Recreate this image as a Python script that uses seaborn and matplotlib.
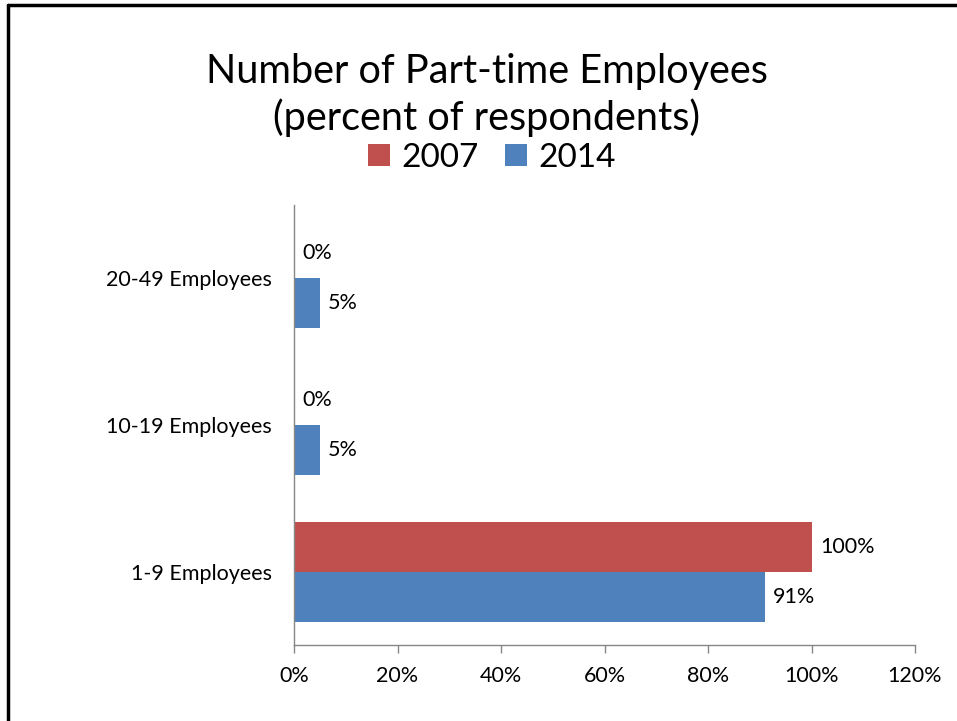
import matplotlib
matplotlib.use("Agg")
import matplotlib.pyplot as plt
from matplotlib.lines import Line2D
from matplotlib.patches import Patch
import seaborn as sns
import pandas as pd

# Survey results: share of respondents per part-time staff size
categories = ["20-49 Employees", "10-19 Employees", "1-9 Employees"]
years = ["2007", "2014"]
values_2007 = [0, 0, 100]
values_2014 = [5, 5, 91]
x_ticks = [0, 20, 40, 60, 80, 100, 120]

colors = {"2007": "#C0504D", "2014": "#4F81BD"}

df = pd.DataFrame({
    "category": categories * 2,
    "year": ["2007"] * len(categories) + ["2014"] * len(categories),
    "value": values_2007 + values_2014,
})

sns.set_theme(style="white")
plt.rcParams["font.family"] = ["Lato", "DejaVu Sans"]
plt.rcParams["text.color"] = "black"
plt.rcParams["xtick.color"] = "black"
plt.rcParams["ytick.color"] = "black"

fig = plt.figure(figsize=(9.57, 7.21), dpi=100)
ax = fig.add_axes([294 / 957, 1 - 645 / 721, (915 - 294) / 957, (645 - 205) / 721])

sns.barplot(data=df, x="value", y="category", hue="year", order=categories,
            hue_order=years, palette=colors, width=0.68, saturation=1,
            orient="h", ax=ax, legend=False, linewidth=0, edgecolor="none")

for container in ax.containers:
    ax.bar_label(container, labels=[f"{v:.0f}%" for v in container.datavalues],
                 padding=6, fontsize=15.5, color="black")

ax.set_xlim(0, 120)
ax.set_ylim(2.5, -0.5)
ax.set_xticks(x_ticks)
ax.set_xticklabels([f"{t}%" for t in x_ticks], fontsize=15.5)
ax.set_xlabel("")
ax.set_ylabel("")
ax.tick_params(axis="y", length=0, pad=16, labelsize=15.5, labelcolor="black")
ax.tick_params(axis="x", bottom=True, direction="out", length=6, width=1,
               color="#868686", pad=9, labelcolor="black")
for side in ("top", "right"):
    ax.spines[side].set_visible(False)
for side in ("left", "bottom"):
    ax.spines[side].set_color("#868686")
    ax.spines[side].set_linewidth(1)

fig.text(487 / 957, 1 - 72 / 721, "Number of Part-time Employees",
         ha="center", va="center", fontsize=28.5, color="black")
fig.text(487 / 957, 1 - 118 / 721, "(percent of respondents)",
         ha="center", va="center", fontsize=28.5, color="black")

handles = [Patch(facecolor=colors[y], edgecolor="none") for y in years]
fig.legend(handles, years, loc="center", bbox_to_anchor=(492 / 957, 1 - 158 / 721),
           ncol=2, frameon=False, fontsize=24, handlelength=0.65, handleheight=0.65,
           handletextpad=0.35, columnspacing=0.8, borderaxespad=0, labelcolor="black")

# Slide frame on the left and top edges
fig.add_artist(Line2D([8 / 957, 8 / 957], [0, 1 - 5 / 721], color="black", lw=2.5,
                      transform=fig.transFigure))
fig.add_artist(Line2D([8 / 957, 1], [1 - 5 / 721, 1 - 5 / 721], color="black", lw=2.5,
                      transform=fig.transFigure))

fig.savefig("out.png", dpi=100, facecolor="white")
